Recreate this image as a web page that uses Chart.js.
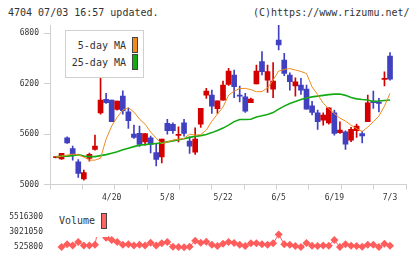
<!DOCTYPE html>
<html>
<head>
<meta charset="utf-8">
<script src="https://cdn.jsdelivr.net/npm/chart.js@4.4.1/dist/chart.umd.min.js"></script>
<style>
body{margin:0;background:#fff;width:420px;height:259px;overflow:hidden;position:relative;font-family:"DejaVu Sans Mono",monospace;color:#333}
canvas{position:absolute;left:0}
#main{top:0}
#vol{top:205px}
.txt{position:absolute;font-size:10px;line-height:12px;white-space:pre}
.legend{position:absolute;background:#fff}
.sw{position:absolute;width:4px;height:14px;border:1px solid #444}
</style>
</head>
<body>
<div class="txt" style="left:8px;top:7px">4704 07/03 16:57 updated.</div>
<div class="txt" style="left:253px;top:7px">(C)https://www.rizumu.net/</div>
<canvas id="main" width="420" height="205"></canvas>
<canvas id="vol" width="420" height="54"></canvas>
<div class="legend" style="left:65px;top:30px;width:77px;height:46px;border:1px solid #d0d0d0">
  <div class="txt" style="right:17px;top:9px">5-day MA</div>
  <div class="sw" style="left:66px;top:6px;background:#f08c1e"></div>
  <div class="txt" style="right:17px;top:26px">25-day MA</div>
  <div class="sw" style="left:66px;top:23px;background:#14aa14"></div>
</div>
<div class="legend" style="left:55px;top:209px;width:53px;height:28px">
  <div class="txt" style="left:4px;top:6px">Volume</div>
  <div class="sw" style="left:46px;top:4px;background:#ff6464"></div>
</div>
<script>
const days = ['4/6','4/7','4/8','4/9','4/10','4/13','4/14','4/15','4/16','4/17',
  '4/20','4/21','4/22','4/23','4/24','4/27','4/28','4/30','5/1','5/7',
  '5/8','5/11','5/12','5/13','5/14','5/15','5/18','5/19','5/20','5/21',
  '5/22','5/25','5/26','5/27','5/28','5/29','6/1','6/2','6/3','6/4',
  '6/5','6/8','6/9','6/10','6/11','6/12','6/15','6/16','6/17','6/18',
  '6/19','6/22','6/23','6/24','6/25','6/26','6/29','6/30','7/1','7/2','7/3']
const labelIdx = [10,20,30,40,50,60]

const opens = [5322,5370,5496,5346,5131,5143,5360,5457,6006,5974,
  5747,5994,5878,5759,5561,5477,5608,5477,5300,5540,
  5640,5640,5597,5608,5457,5540,5907,6113,5934,5997,
  6184,6352,6164,6053,5874,6018,6352,6344,6344,6232,
  6662,6324,6224,6224,6125,5898,5859,5747,5827,5914,
  5608,5648,5481,5656,5695,5580,5974,5974,5966,6264,6256]
const closes = [5320,5306,5556,5429,5270,5067,5310,5418,5854,6014,
  6006,5895,6053,5866,5600,5610,5508,5556,5380,5330,
  5728,5716,5585,5735,5517,5385,5719,6065,6065,5902,
  6006,6193,6304,6065,6045,5974,6197,6463,6244,6137,
  6721,6483,6304,6173,6184,6137,5938,5854,5767,5735,
  5854,5616,5628,5528,5640,5608,5747,5994,5982,6253,6531]
const highs = [5326,5372,5568,5457,5298,5171,5373,5588,6350,6086,
  6006,5994,6117,5907,5707,5695,5608,5576,5490,5540,
  5776,5735,5687,5776,5568,5676,5907,6145,6125,5997,
  6232,6384,6364,6173,6086,6030,6423,6582,6423,6451,
  6900,6563,6331,6272,6264,6184,5990,5886,5854,5914,
  5886,5747,5640,5680,5719,5636,6065,6113,6026,6343,6570]
const lows = [5318,5298,5490,5290,5084,5051,5278,5409,5839,5966,
  5747,5886,5839,5668,5548,5455,5469,5377,5220,5258,
  5600,5608,5508,5576,5370,5358,5680,6026,5847,5847,
  6006,6180,6033,5985,5859,5974,6197,6304,6098,6033,
  6602,6296,6125,6053,6074,5898,5830,5656,5707,5720,
  5588,5608,5418,5510,5561,5496,5747,5907,5866,6173,6244]

const ma5 = [5326,5338,5350,5361,5356,5326,5290,5290,5314,5540,
  5696,5803,5886,5916,5863,5779,5719,5624,5552,5487,
  5505,5529,5540,5549,5600,5588,5594,5648,5755,5839,
  5922,6065,6113,6143,6145,6131,6105,6107,6149,6244,
  6352,6370,6381,6364,6346,6322,6161,6071,5970,5904,
  5845,5791,5755,5707,5666,5630,5684,5747,5815,5934,6086]
const ma25 = [5329,5338,5338,5344,5356,5338,5332,5332,5344,5356,
  5373,5389,5413,5433,5451,5469,5475,5483,5489,5493,
  5508,5520,5534,5546,5561,5573,5582,5596,5618,5644,
  5672,5707,5749,5775,5775,5777,5805,5818,5833,5857,
  5898,5934,5966,5988,6012,6030,6044,6053,6062,6071,
  6077,6077,6062,6036,6020,6012,6006,5988,5994,6000,6006]

const volume = [null,560000,1030000,820000,1360000,820000,820000,945000,5516300,2090000,
  1710000,1360000,945000,1030000,820000,945000,820000,1240000,820000,1160000,
  1360000,600000,560000,525800,600000,1580000,1240000,1440000,945000,730000,
  1100000,1360000,1200000,945000,730000,1180000,1180000,990000,945000,1180000,
  2600000,1030000,945000,730000,560000,1200000,780000,730000,820000,780000,
  1710000,560000,990000,780000,730000,610000,945000,945000,570000,1100000,780000]

const priceTicks = [5000,5600,6200,6800]
const volTicks = [525800,3021050,5516300]

const UP = "#4040c0", DOWN = "#d40000", AXIS = "#d0d0d0"
const X_MIN = -1.078, X_MAX = 62.87
Chart.defaults.font.family = "DejaVu Sans Mono"
Chart.defaults.animation = false

const candleColor = days.map((d,i) => closes[i] >= opens[i] ? UP : DOWN)
// tick marks along the bottom, evenly spread
const marks = []
for(let k=0;k<=11;k++) marks.push(X_MIN + k*(X_MAX-X_MIN)/11)

new Chart(document.getElementById("main"),{
    type: "bar",
    data:{
        datasets:[
            {type:"line", data: ma5.map((v,i)=>({x:i,y:v})), borderColor:"#f08c1e", borderWidth:1, pointRadius:0, order:0},
            {type:"line", data: ma25.map((v,i)=>({x:i,y:v})), borderColor:"#14aa14", borderWidth:1.6, pointRadius:0, order:0},
            {data: days.map((d,i)=>({x:i,y:[lows[i],highs[i]]})), backgroundColor:candleColor, barThickness:1, grouped:false, order:2},
            {data: days.map((d,i)=>({x:i,y:[opens[i],closes[i]]})), backgroundColor:candleColor, barThickness:5, minBarLength:1, grouped:false, order:1},
        ]
    },
    options:{
        responsive:false,
        layout:{ padding:{ top:25, right:14, left:0, bottom:0 }},
        plugins:{ legend:{display:false}, tooltip:{enabled:false} },
        scales:{
            x:{
                type:"linear", min:X_MIN, max:X_MAX, offset:false,
                afterBuildTicks: s => {
                    s.ticks = marks.concat(labelIdx).sort((a,b)=>a-b).map(v=>({value:v}))
                },
                afterFit: s => { s.height = 20.5 },
                grid:{ offset:false, drawOnChartArea:false, tickLength:5,
                    color: c => (c.tick && labelIdx.includes(c.tick.value)) ? "rgba(0,0,0,0)" : AXIS },
                border:{ color:AXIS },
                ticks:{ autoSkip:false, maxRotation:0, padding:4, color:"#333", font:{size:8},
                    callback: v => labelIdx.includes(v) ? days[v] : "" }
            },
            y:{
                min:5000, max:6900,
                afterBuildTicks: s => { s.ticks = priceTicks.map(v=>({value:v})) },
                afterFit: s => { s.width = 50 },
                grid:{ drawOnChartArea:false, tickLength:6, color:AXIS },
                border:{ color:AXIS },
                ticks:{ padding:5, color:"#333", font:{size:8}, callback: v => String(v) }
            }
        }
    }
})

new Chart(document.getElementById("vol"),{
    type:"line",
    data:{
        datasets:[{
            data: volume.map((v,i)=>({x:i,y:v})),
            borderColor:"#ff5c5c", borderWidth:1,
            pointStyle:"rectRot", pointRadius:4, pointBackgroundColor:"#ff5c5c", pointBorderWidth:0,
            spanGaps:false, clip:false
        }]
    },
    options:{
        responsive:false,
        layout:{ padding:{ top:4, right:14, bottom:10.5, left:0 }},
        plugins:{ legend:{display:false}, tooltip:{enabled:false} },
        scales:{
            x:{ type:"linear", min:X_MIN, max:X_MAX, display:false },
            y:{
                min:525800, max:5516300,
                afterBuildTicks: s => { s.ticks = volTicks.map(v=>({value:v})) },
                afterFit: s => { s.width = 50 },
                grid:{ display:false, drawTicks:false },
                border:{ display:false },
                ticks:{ padding:7, color:"#333", font:{size:8}, callback: v => String(v) }
            }
        }
    }
})
</script>
</body>
</html>
